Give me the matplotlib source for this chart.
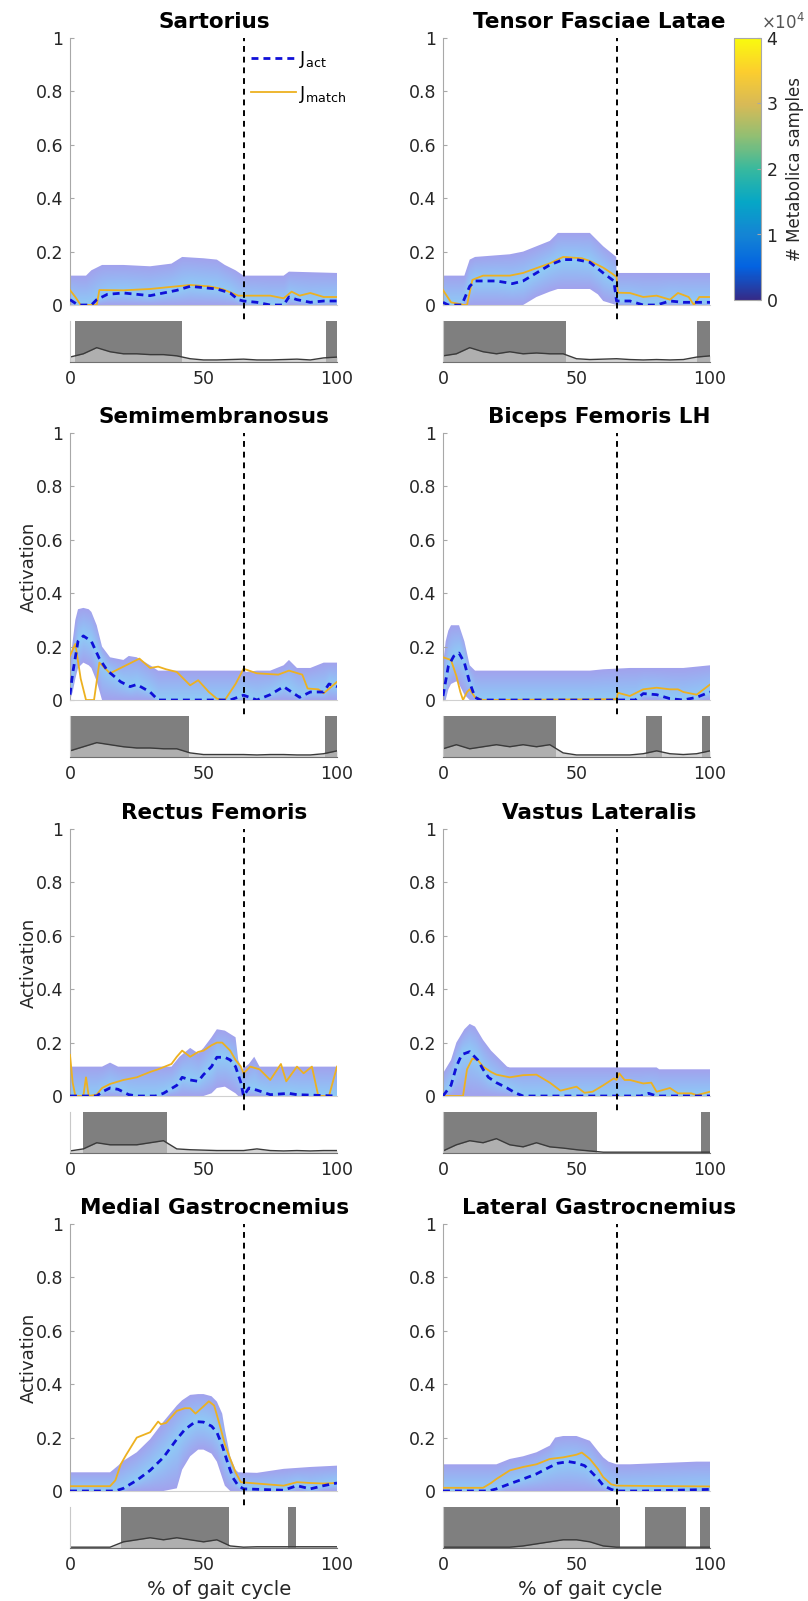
import numpy as np
import matplotlib
matplotlib.use('Agg')
import matplotlib.pyplot as plt
from matplotlib.colors import LinearSegmentedColormap, Normalize
from matplotlib.cm import ScalarMappable

plt.rcParams['font.family'] = ['DejaVu Sans']
plt.rcParams['mathtext.fontset'] = 'dejavusans'

# ---------------- data ----------------
toe_off = 65            # % gait cycle, dashed vertical line
x_ticks = [0, 50, 100]
y_ticks = [0, 0.2, 0.4, 0.6, 0.8, 1]
y_ticklabels = ['0', '0.2', '0.4', '0.6', '0.8', '1']
cb_ticks = [0, 1, 2, 3, 4]   # x 10^4 Metabolica samples
emg_x = [0, 5, 10, 15, 20, 25, 30, 35, 40, 45, 50, 55, 60, 65, 70, 75, 80, 85, 90, 95, 100]

# Sartorius
sar_bx = [0, 6, 8, 12, 20, 30, 38, 42, 50, 55, 58, 62, 65, 80, 82, 100]
sar_up = [0.11, 0.11, 0.13, 0.15, 0.15, 0.145, 0.155, 0.18, 0.175, 0.17, 0.15, 0.13, 0.11, 0.11, 0.125, 0.12]
sar_lo = [0] * 16
sar_ax = [0, 3, 8, 10, 14, 20, 25, 30, 35, 40, 45, 50, 55, 60, 63, 65, 70, 75, 80, 82, 85, 90, 95, 100]
sar_ay = [0.02, 0.0, 0.0, 0.02, 0.04, 0.045, 0.04, 0.035, 0.045, 0.055, 0.07, 0.065, 0.06, 0.045, 0.02, 0.015, 0.01, 0.0, 0.0, 0.03, 0.02, 0.01, 0.015, 0.015]
sar_mx = [0, 2, 4, 10, 11, 20, 30, 40, 45, 52, 57, 63, 70, 75, 80, 83, 86, 90, 95, 100]
sar_my = [0.056, 0.03, 0.0, 0.0, 0.056, 0.055, 0.06, 0.07, 0.075, 0.07, 0.06, 0.035, 0.035, 0.035, 0.025, 0.05, 0.035, 0.045, 0.03, 0.03]
sar_bars = [(2, 42), (96, 100)]
sar_emg = [0.12, 0.2, 0.35, 0.25, 0.2, 0.2, 0.18, 0.18, 0.15, 0.08, 0.05, 0.05, 0.06, 0.07, 0.05, 0.05, 0.06, 0.07, 0.05, 0.1, 0.12]

# Tensor Fasciae Latae
tfl_bx = [0, 8, 10, 12, 25, 30, 35, 40, 43, 55, 58, 60, 64.9, 65, 100]
tfl_up = [0.11, 0.11, 0.17, 0.18, 0.19, 0.2, 0.22, 0.24, 0.27, 0.27, 0.24, 0.22, 0.18, 0.12, 0.12]
tfl_lo = [0, 0, 0, 0, 0, 0, 0.03, 0.05, 0.06, 0.06, 0.04, 0.015, 0, 0, 0]
tfl_ax = [0, 2, 7, 10, 12, 15, 20, 26, 30, 35, 40, 45, 50, 55, 60, 64, 65, 70, 75, 80, 85, 90, 95, 100]
tfl_ay = [0.01, 0.0, 0.0, 0.07, 0.09, 0.09, 0.09, 0.08, 0.09, 0.12, 0.15, 0.17, 0.17, 0.16, 0.12, 0.09, 0.015, 0.015, 0.0, 0.0, 0.015, 0.01, 0.01, 0.01]
tfl_mx = [0, 3, 8, 9, 11, 15, 25, 30, 40, 45, 52, 55, 60, 63, 65, 65.5, 70, 75, 80, 85, 88, 92, 94, 96, 100]
tfl_my = [0.056, 0.01, 0.0, 0.0, 0.094, 0.11, 0.11, 0.12, 0.156, 0.18, 0.175, 0.165, 0.14, 0.12, 0.105, 0.046, 0.045, 0.03, 0.035, 0.02, 0.045, 0.03, 0.0, 0.03, 0.03]
tfl_bars = [(0, 46), (95, 100)]
tfl_emg = [0.15, 0.2, 0.35, 0.25, 0.2, 0.25, 0.2, 0.22, 0.2, 0.2, 0.08, 0.06, 0.07, 0.08, 0.06, 0.05, 0.06, 0.05, 0.06, 0.12, 0.15]

# Semimembranosus
sm_bx = [0, 1, 2, 3, 5, 7, 8, 10, 12, 15, 20, 22, 25, 30, 33, 65, 66, 70, 75, 80, 82, 85, 90, 95, 100]
sm_up = [0.13, 0.22, 0.3, 0.34, 0.345, 0.34, 0.33, 0.28, 0.2, 0.16, 0.15, 0.165, 0.16, 0.13, 0.11, 0.11, 0.105, 0.11, 0.11, 0.13, 0.15, 0.12, 0.12, 0.14, 0.14]
sm_lo = [0, 0.03, 0.08, 0.12, 0.14, 0.13, 0.12, 0.07, 0, 0, 0, 0, 0, 0, 0, 0, 0, 0, 0, 0, 0, 0, 0, 0, 0]
sm_ax = [0, 1, 3, 5, 8, 11, 14, 19, 22.5, 25, 30, 33, 60, 65, 70, 75, 80, 83, 86, 90, 95, 97, 100]
sm_ay = [0.02, 0.1, 0.22, 0.24, 0.22, 0.155, 0.11, 0.068, 0.05, 0.058, 0.03, 0.0, 0.0, 0.018, 0.0, 0.02, 0.05, 0.03, 0.01, 0.03, 0.03, 0.06, 0.05]
sm_mx = [0, 2, 4, 6, 9, 11, 13, 15, 18, 23, 26, 30, 33, 36, 40, 45, 48, 52, 55, 58, 62, 65, 70, 78, 82, 87, 89, 93, 95, 100]
sm_my = [0.166, 0.21, 0.08, 0.0, 0.0, 0.14, 0.12, 0.1, 0.115, 0.14, 0.155, 0.12, 0.125, 0.115, 0.105, 0.055, 0.074, 0.03, 0.005, 0.0, 0.06, 0.117, 0.1, 0.095, 0.11, 0.095, 0.043, 0.04, 0.025, 0.068]
sm_bars = [(0, 44.5), (95.6, 100)]
sm_emg = [0.15, 0.25, 0.35, 0.3, 0.25, 0.22, 0.22, 0.2, 0.2, 0.1, 0.06, 0.06, 0.06, 0.06, 0.05, 0.06, 0.06, 0.05, 0.05, 0.08, 0.15]

# Biceps Femoris LH
bf_bx = [0, 1, 2, 3, 5, 6, 8, 10, 12, 55, 60, 70, 80, 90, 95, 100]
bf_up = [0.13, 0.22, 0.26, 0.28, 0.28, 0.28, 0.22, 0.13, 0.11, 0.11, 0.115, 0.12, 0.12, 0.12, 0.125, 0.13]
bf_lo = [0, 0, 0.04, 0.06, 0.07, 0.06, 0.02, 0, 0, 0, 0, 0, 0, 0, 0, 0]
bf_ax = [0, 2, 4, 6, 8, 10, 12, 14, 72, 75, 80, 85, 90, 95, 100]
bf_ay = [0.015, 0.127, 0.164, 0.176, 0.14, 0.065, 0.01, 0.0, 0.0, 0.024, 0.02, 0.005, 0.0, 0.01, 0.03]
bf_mx = [0, 3, 5, 6.5, 7.5, 9, 10, 12, 15, 65, 65.5, 70, 75, 80, 85, 88, 90, 95, 100]
bf_my = [0.16, 0.15, 0.09, 0.03, 0.0, 0.03, 0.04, 0.01, 0.0, 0.003, 0.027, 0.015, 0.04, 0.046, 0.04, 0.04, 0.03, 0.02, 0.058]
bf_bars = [(0, 42.2), (76, 82), (96.9, 100)]
bf_emg = [0.2, 0.3, 0.2, 0.25, 0.3, 0.25, 0.3, 0.25, 0.3, 0.1, 0.05, 0.05, 0.05, 0.05, 0.05, 0.08, 0.15, 0.08, 0.06, 0.08, 0.15]

# Rectus Femoris
rf_bx = [0, 12, 15, 18, 38, 41, 45, 48, 50, 53, 55, 58, 62, 63, 64.5, 67, 69, 71, 100]
rf_up = [0.11, 0.11, 0.125, 0.11, 0.11, 0.147, 0.18, 0.16, 0.18, 0.22, 0.25, 0.245, 0.22, 0.135, 0.1, 0.12, 0.147, 0.11, 0.11]
rf_lo = [0, 0, 0, 0, 0, 0, 0, 0, 0, 0.01, 0.03, 0.035, 0.01, 0, 0, 0, 0, 0, 0]
rf_ax = [0, 10, 12, 15, 18, 22, 25, 32, 35, 40, 42, 45, 48, 50, 53, 55, 58, 60, 62, 64, 65, 67, 70, 75, 82, 85, 100]
rf_ay = [0.0, 0.0, 0.015, 0.03, 0.025, 0.005, 0.0, 0.0, 0.01, 0.04, 0.07, 0.06, 0.055, 0.08, 0.11, 0.145, 0.145, 0.135, 0.11, 0.05, 0.0, 0.03, 0.022, 0.005, 0.01, 0.005, 0.0]
rf_mx = [0, 1, 2, 5, 6, 7, 10, 12, 15, 20, 25, 30, 33, 38, 40, 42, 45, 48, 50, 53, 55, 57, 60, 62, 64, 65, 67.5, 71, 75, 79, 81, 85, 87.5, 90.6, 93, 97, 100]
rf_my = [0.154, 0.05, 0.0, 0.0, 0.07, 0.0, 0.005, 0.03, 0.045, 0.06, 0.07, 0.09, 0.1, 0.12, 0.147, 0.17, 0.147, 0.165, 0.17, 0.19, 0.2, 0.2, 0.17, 0.135, 0.11, 0.085, 0.11, 0.1, 0.06, 0.12, 0.055, 0.11, 0.085, 0.11, 0.0, 0.0, 0.11]
rf_bars = [(4.8, 36.2)]
rf_emg = [0.05, 0.1, 0.25, 0.2, 0.2, 0.2, 0.25, 0.3, 0.1, 0.08, 0.07, 0.06, 0.06, 0.06, 0.1, 0.06, 0.05, 0.06, 0.05, 0.06, 0.06]

# Vastus Lateralis
vl_bx = [0, 3, 5, 8, 10, 12, 15, 18, 20, 24, 25, 80, 81, 100]
vl_up = [0.085, 0.135, 0.2, 0.25, 0.27, 0.26, 0.21, 0.17, 0.15, 0.11, 0.107, 0.107, 0.1, 0.1]
vl_lo = [0] * 14
vl_ax = [0, 3, 5, 7, 10, 13, 15, 17, 20, 24, 27, 30, 74, 77, 80, 100]
vl_ay = [0.0, 0.04, 0.11, 0.155, 0.166, 0.135, 0.1, 0.07, 0.05, 0.03, 0.012, 0.0, 0.0, 0.01, 0.0, 0.0]
vl_mx = [0, 7.5, 9, 11, 13, 15, 18, 20, 25, 30, 35, 40, 44, 50, 53, 56, 60, 64, 65, 66, 68, 70, 75, 78, 80, 85, 88, 93, 95, 100]
vl_my = [0.0, 0.0, 0.1, 0.14, 0.135, 0.11, 0.09, 0.08, 0.07, 0.078, 0.08, 0.05, 0.02, 0.035, 0.012, 0.016, 0.04, 0.066, 0.06, 0.085, 0.06, 0.06, 0.047, 0.05, 0.016, 0.03, 0.01, 0.01, 0.003, 0.016]
vl_bars = [(0, 57.5), (96.5, 100)]
vl_emg = [0.05, 0.2, 0.3, 0.25, 0.35, 0.2, 0.15, 0.25, 0.15, 0.12, 0.08, 0.05, 0.02, 0.02, 0.02, 0.02, 0.02, 0.02, 0.02, 0.02, 0.02]

# Medial Gastrocnemius
mg_bx = [0, 15, 18, 20, 25, 30, 35, 40, 42, 45, 48, 50, 53, 55, 57, 58, 60, 62, 63, 70, 80, 90, 100]
mg_up = [0.07, 0.07, 0.095, 0.113, 0.145, 0.194, 0.26, 0.32, 0.34, 0.36, 0.363, 0.363, 0.355, 0.335, 0.29, 0.23, 0.13, 0.08, 0.07, 0.068, 0.083, 0.09, 0.095]
mg_lo = [0, 0, 0, 0, 0, 0, 0, 0.01, 0.08, 0.13, 0.155, 0.155, 0.14, 0.11, 0.05, 0.02, 0, 0, 0, 0, 0, 0, 0]
mg_ax = [0, 17, 20, 25, 30, 35, 40, 43, 47, 50, 53, 55, 57, 59, 61, 63, 65, 80, 85, 90, 95, 100]
mg_ay = [0.0, 0.0, 0.01, 0.04, 0.077, 0.126, 0.194, 0.23, 0.26, 0.258, 0.243, 0.22, 0.17, 0.107, 0.05, 0.02, 0.008, 0.003, 0.02, 0.008, 0.02, 0.03]
mg_mx = [0, 15, 17, 19, 21, 25, 30, 33, 34, 36, 40, 43, 45, 47, 50, 52, 54, 56, 58, 60, 62, 64, 70, 80, 85, 90, 95, 100]
mg_my = [0.018, 0.018, 0.04, 0.1, 0.135, 0.2, 0.22, 0.26, 0.25, 0.255, 0.3, 0.31, 0.31, 0.29, 0.317, 0.336, 0.32, 0.25, 0.175, 0.12, 0.07, 0.033, 0.028, 0.02, 0.033, 0.03, 0.028, 0.03]
mg_bars = [(19, 59.5), (81.8, 84.8)]
mg_emg = [0.02, 0.02, 0.02, 0.02, 0.15, 0.2, 0.25, 0.2, 0.25, 0.2, 0.15, 0.2, 0.05, 0.02, 0.03, 0.03, 0.03, 0.03, 0.03, 0.03, 0.03]

# Lateral Gastrocnemius
lg_bx = [0, 15, 20, 25, 30, 35, 40, 42, 45, 50, 55, 58, 60, 62, 65, 70, 95, 100]
lg_up = [0.1, 0.1, 0.1, 0.12, 0.13, 0.145, 0.17, 0.2, 0.206, 0.206, 0.188, 0.15, 0.126, 0.11, 0.1, 0.1, 0.11, 0.11]
lg_lo = [0] * 18
lg_ax = [0, 17, 20, 25, 30, 35, 40, 43, 47, 50, 53, 55, 58, 60, 63, 65, 75, 100]
lg_ay = [0.0, 0.0, 0.008, 0.027, 0.045, 0.064, 0.09, 0.104, 0.11, 0.105, 0.095, 0.077, 0.046, 0.021, 0.006, 0.0, 0.0, 0.006]
lg_mx = [0, 15, 18, 20, 25, 30, 35, 40, 45, 50, 52, 55, 58, 60, 63, 65, 100]
lg_my = [0.012, 0.012, 0.03, 0.045, 0.077, 0.09, 0.1, 0.12, 0.126, 0.136, 0.144, 0.12, 0.083, 0.052, 0.025, 0.02, 0.017]
lg_bars = [(0, 66.2), (75.6, 90.9), (96.3, 100)]
lg_emg = [0.02, 0.02, 0.02, 0.02, 0.02, 0.02, 0.05, 0.1, 0.15, 0.2, 0.2, 0.15, 0.05, 0.02, 0.02, 0.02, 0.02, 0.02, 0.02, 0.02, 0.02]

panels = [
    ('Sartorius', sar_bx, sar_up, sar_lo, sar_ax, sar_ay, sar_mx, sar_my, sar_bars, sar_emg),
    ('Tensor Fasciae Latae', tfl_bx, tfl_up, tfl_lo, tfl_ax, tfl_ay, tfl_mx, tfl_my, tfl_bars, tfl_emg),
    ('Semimembranosus', sm_bx, sm_up, sm_lo, sm_ax, sm_ay, sm_mx, sm_my, sm_bars, sm_emg),
    ('Biceps Femoris LH', bf_bx, bf_up, bf_lo, bf_ax, bf_ay, bf_mx, bf_my, bf_bars, bf_emg),
    ('Rectus Femoris', rf_bx, rf_up, rf_lo, rf_ax, rf_ay, rf_mx, rf_my, rf_bars, rf_emg),
    ('Vastus Lateralis', vl_bx, vl_up, vl_lo, vl_ax, vl_ay, vl_mx, vl_my, vl_bars, vl_emg),
    ('Medial Gastrocnemius', mg_bx, mg_up, mg_lo, mg_ax, mg_ay, mg_mx, mg_my, mg_bars, mg_emg),
    ('Lateral Gastrocnemius', lg_bx, lg_up, lg_lo, lg_ax, lg_ay, lg_mx, lg_my, lg_bars, lg_emg),
]

# ---------------- colours ----------------
parula = LinearSegmentedColormap.from_list('parula', [
    (0.2081, 0.1663, 0.5292), (0.0117, 0.3875, 0.8820), (0.0793, 0.5200, 0.8312),
    (0.0228, 0.6535, 0.7768), (0.2178, 0.7250, 0.6193), (0.5709, 0.7485, 0.4494),
    (0.8507, 0.7299, 0.3360), (0.9880, 0.8066, 0.1794), (0.9763, 0.9831, 0.0538)])
band_cmap = LinearSegmentedColormap.from_list('band', ['#8ecbf6', '#97b6f3', '#a2a2ed'])
act_col = '#1010d8'
match_col = '#edb120'
gray_txt = '#262626'
spine_col = '#a8a8a8'

W, H = 808, 1601
fig = plt.figure(figsize=(W / 100, H / 100), dpi=100)

col_left = [70, 443]
row_top = [38, 433, 829, 1224]
ax_w, ax_h = 267, 267
gap, strip_h = 16, 41


def fbox(x, y_top, w, h):
    return [x / W, 1 - (y_top + h) / H, w / W, h / H]


def draw_band(ax, bx, up, lo, act_x, act_y):
    poly = ax.fill_between(bx, lo, up, facecolor='none', edgecolor='none')
    gx = np.linspace(0, 100, 401)
    gy = np.linspace(0, 0.4, 321)
    a = np.interp(gx, act_x, act_y)
    u = np.interp(gx, bx, up)
    l = np.interp(gx, bx, lo)
    Y = gy[:, None]
    above = (Y - a) / np.maximum(u - a, 0.02)
    below = (a - Y) / np.maximum(a - l, 0.02)
    t = np.clip(np.where(Y >= a, above, below), 0, 1)
    im = ax.imshow(t, extent=(0, 100, 0, 0.4), origin='lower', aspect='auto',
                   cmap=band_cmap, vmin=0, vmax=1, interpolation='bilinear', zorder=1)
    im.set_clip_path(poly.get_paths()[0], transform=ax.transData)


for i, (name, bx, up, lo, act_x, act_y, m_x, m_y, bars, emg) in enumerate(panels):
    r, c = divmod(i, 2)
    x0 = col_left[c]
    ax = fig.add_axes(fbox(x0, row_top[r], ax_w, ax_h))
    axs = fig.add_axes(fbox(x0, row_top[r] + ax_h + gap, ax_w, strip_h))

    draw_band(ax, bx, up, lo, act_x, act_y)
    ax.plot(m_x, m_y, color=match_col, lw=1.3, zorder=3, label=r'J$_{\mathrm{match}}$')
    ax.plot(act_x, act_y, color=act_col, lw=2, ls=(0, (2.5, 1.8)), zorder=4, label=r'J$_{\mathrm{act}}$')
    ymin = -(gap + strip_h) / ax_h
    ax.axvline(toe_off, ymin=ymin, ymax=1, color='black', lw=1.4, ls=(0, (3, 2.5)),
               clip_on=False, zorder=5)

    ax.set_xlim(0, 100)
    ax.set_ylim(0, 1)
    ax.set_yticks(y_ticks)
    ax.set_yticklabels(y_ticklabels)
    ax.set_xticks([])
    ax.tick_params(axis='y', direction='in', length=3, width=0.8, color=spine_col,
                   labelsize=12.5, labelcolor=gray_txt, pad=5)
    for s in ['top', 'right']:
        ax.spines[s].set_visible(False)
    ax.spines['left'].set_color(spine_col)
    ax.spines['bottom'].set_color('#d0d0d0')
    ax.patch.set_alpha(0)
    ax.set_title(name, fontsize=15.5, fontweight='bold', x=0.54 if c == 0 else 0.585, pad=7)
    if c == 0 and r > 0:
        ax.set_ylabel('Activation', fontsize=13, color=gray_txt)
        ax.yaxis.set_label_coords(-0.12, 0.5)

    if i == 0:
        h, lab = ax.get_legend_handles_labels()
        ax.legend(h[::-1], lab[::-1], loc='upper left', bbox_to_anchor=(0.65, 0.985),
                  frameon=False, fontsize=13, handlelength=2.5, handletextpad=0.15,
                  labelspacing=0.75, borderaxespad=0)

    # EMG strip
    for s, e in bars:
        axs.axvspan(s, e, ymin=0, ymax=1, color='#7f7f7f', lw=0)
    axs.fill_between(emg_x, 0, emg, color='#c4c4c4', alpha=0.7, lw=0)
    axs.plot(emg_x, emg, color='#3a3a3a', lw=1)
    axs.set_xlim(0, 100)
    axs.set_ylim(0, 1)
    axs.set_yticks([])
    axs.set_xticks(x_ticks)
    axs.tick_params(axis='x', direction='in', length=0, labelsize=12.5,
                    labelcolor=gray_txt, pad=6)
    for s in ['top', 'right']:
        axs.spines[s].set_visible(False)
    axs.spines['left'].set_color('#c8c8c8')
    axs.spines['bottom'].set_color('#707070')
    if r == 3:
        axs.set_xlabel('% of gait cycle', fontsize=14, color=gray_txt)
        axs.xaxis.set_label_coords(0.56 if c == 0 else 0.55, -0.78)

# colorbar
cax = fig.add_axes(fbox(734, 38, 27, 262))
cb = fig.colorbar(ScalarMappable(norm=Normalize(0, 4), cmap=parula), cax=cax)
cb.set_ticks(cb_ticks)
cb.ax.tick_params(direction='in', length=3, color=spine_col, labelsize=12.5,
                  labelcolor=gray_txt, pad=4)
cb.outline.set_edgecolor(spine_col)
cb.set_label('# Metabolica samples', fontsize=12, color=gray_txt, labelpad=6)
fig.text(761 / W, 1 - 29 / H, r'$\times$10$^{4}$', fontsize=12, color='#555555',
         ha='left', va='baseline')

fig.savefig('out.png', dpi=100)
